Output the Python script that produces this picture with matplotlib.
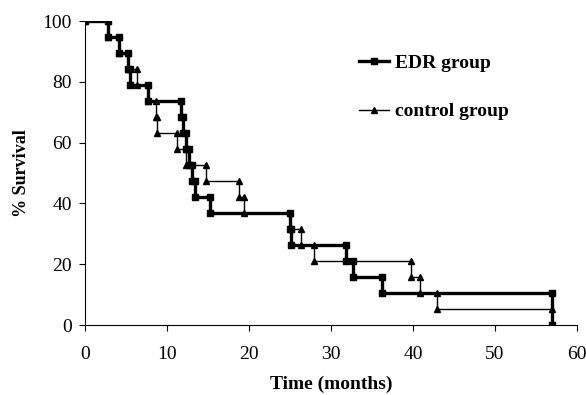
import matplotlib
matplotlib.use("Agg")
import matplotlib.pyplot as plt

plt.rcParams['font.family'] = ['Liberation Serif', 'DejaVu Serif']

# event times (months) and survival (%) after each event
edr_t = [0, 2.75, 4.2, 5.3, 5.5, 7.7, 11.7, 12.0, 12.3, 12.7, 13.0, 13.4,
         15.2, 25.0, 25.1, 31.8, 32.7, 36.2, 57.0]
edr_s = [100, 94.7, 89.5, 84.2, 78.9, 73.7, 68.4, 63.2, 57.9, 52.6, 47.4,
         42.1, 36.8, 31.6, 26.3, 21.1, 15.8, 10.5, 0]

ctl_t = [0, 2.75, 4.2, 5.3, 6.3, 7.7, 8.7, 8.8, 11.2, 12.3, 14.8, 18.8,
         19.4, 25.0, 26.3, 27.9, 39.8, 40.9, 42.9, 57.0]
ctl_s = [100, 94.7, 89.5, 84.2, 78.9, 73.7, 68.4, 63.2, 57.9, 52.6, 47.4,
         42.1, 36.8, 31.6, 26.3, 21.1, 15.8, 10.5, 5.3, 0]


def steps(t, s):
    # vertices of the staircase, one corner pair per event
    xs, ys = [t[0]], [s[0]]
    for i in range(1, len(t)):
        xs += [t[i], t[i]]
        ys += [s[i - 1], s[i]]
    return xs, ys


fig = plt.figure(figsize=(5.86, 3.95), dpi=100)
ax = fig.add_axes([85 / 586, 1 - 325 / 395, 492 / 586, 304 / 395])

x, y = steps(ctl_t, ctl_s)
ax.plot(x, y, color='black', lw=1.0, marker='^', ms=4, label='control group')
x, y = steps(edr_t, edr_s)
ax.plot(x, y, color='black', lw=2.4, marker='s', ms=4.5, label='EDR group')

ax.set_xlim(0, 60)
ax.set_ylim(0, 100)
ax.set_xticks(range(0, 61, 10))
ax.set_yticks(range(0, 101, 20))
ax.spines['top'].set_visible(False)
ax.spines['right'].set_visible(False)
ax.tick_params(labelsize=14, length=4.5, direction='out')
ax.tick_params(axis='x', pad=10.5)
ax.tick_params(axis='y', pad=5)

ax.set_xlabel('Time (months)', fontsize=14, fontweight='bold', labelpad=9)
ax.set_ylabel('% Survival', fontsize=13, fontweight='bold', labelpad=9)

h, l = ax.get_legend_handles_labels()
leg = ax.legend(h[::-1], l[::-1], loc='upper left', frameon=False,
                bbox_to_anchor=(359 / 586, 1 - 54 / 395),
                bbox_transform=fig.transFigure,
                borderpad=0, borderaxespad=0, handlelength=1.55,
                handletextpad=0.3, labelspacing=1.6,
                prop={'size': 14, 'weight': 'bold'})

fig.savefig('out.png', dpi=100)
